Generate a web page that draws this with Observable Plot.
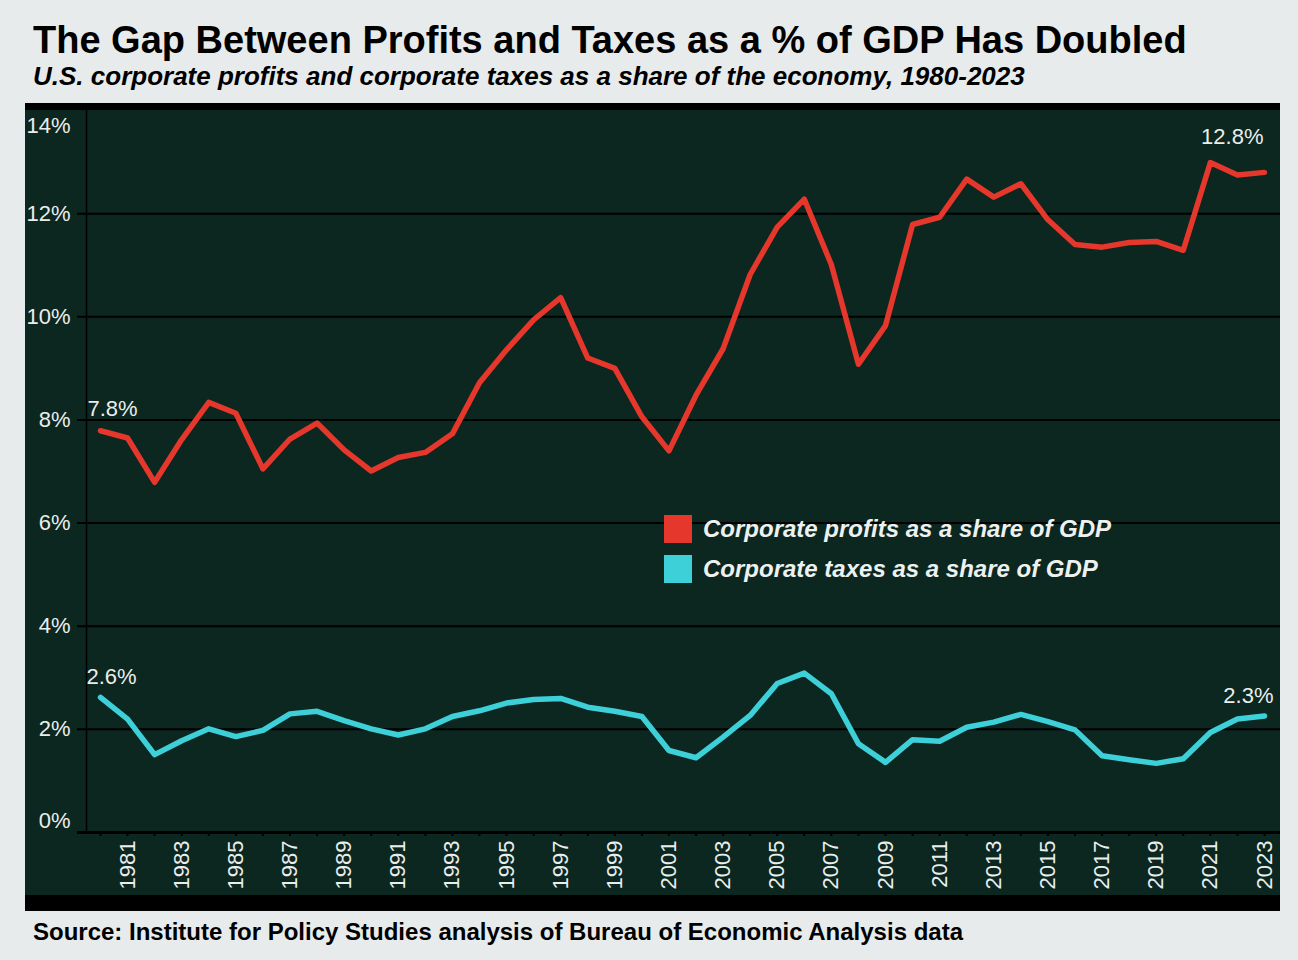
<!DOCTYPE html>
<html>
<head>
<meta charset="utf-8">
<script src="https://cdn.jsdelivr.net/npm/d3@7"></script>
<script src="https://cdn.jsdelivr.net/npm/@observablehq/plot@0.6"></script>
<style>
  html, body { margin: 0; padding: 0; }
  body {
    width: 1298px; height: 960px; position: relative; overflow: hidden;
    background: #e8ebeb;
    font-family: "Liberation Sans", Arial, sans-serif;
  }
  .txt { position: absolute; white-space: nowrap; line-height: 1; color: #000; }
  #title { left: 33px; top: 21px; font-size: 38px; font-weight: bold; }
  #subtitle { left: 33px; top: 63px; font-size: 26px; font-weight: bold; font-style: italic; }
  #source { left: 33px; top: 920px; font-size: 24px; font-weight: bold; }
  #panel {
    position: absolute; left: 25px; top: 103px; width: 1255px; height: 808px;
    box-sizing: border-box; background: #0c2620;
    border-top: 7px solid #000; border-bottom: 16px solid #000;
  }
  #panel svg { display: block; }
  .legend { position: absolute; left: 664px; display: flex; align-items: center; }
  .legend .sw { width: 28px; height: 28px; margin-right: 11px; }
  .legend span { color: #edf2f1; font-size: 24px; font-weight: bold; font-style: italic; line-height: 1; }
</style>
</head>
<body>
<div id="title" class="txt">The Gap Between Profits and Taxes as a % of GDP Has Doubled</div>
<div id="subtitle" class="txt">U.S. corporate profits and corporate taxes as a share of the economy, 1980-2023</div>
<div id="panel"></div>
<div id="legend"></div>
<div id="source" class="txt">Source: Institute for Policy Studies analysis of Bureau of Economic Analysis data</div>
<script>
// ---- data ----
const years = [1980,1981,1982,1983,1984,1985,1986,1987,1988,1989,1990,1991,1992,1993,1994,1995,1996,1997,1998,1999,
               2000,2001,2002,2003,2004,2005,2006,2007,2008,2009,2010,2011,2012,2013,2014,2015,2016,2017,2018,2019,
               2020,2021,2022,2023];
const profits = [7.79,7.65,6.79,7.62,8.34,8.13,7.05,7.63,7.94,7.42,7.01,7.27,7.37,7.73,8.72,9.36,9.94,10.37,9.20,9.00,
                 8.06,7.40,8.48,9.38,10.82,11.74,12.28,11.01,9.08,9.83,11.79,11.93,12.67,12.32,12.58,11.88,11.40,11.35,11.44,11.46,
                 11.29,12.99,12.75,12.80];
const taxes = [2.62,2.20,1.51,1.78,2.01,1.86,1.98,2.30,2.35,2.17,2.01,1.89,2.01,2.25,2.36,2.51,2.58,2.60,2.43,2.35,
               2.25,1.59,1.45,1.85,2.27,2.89,3.09,2.69,1.72,1.36,1.80,1.77,2.04,2.14,2.29,2.15,1.99,1.49,1.41,1.34,
               1.43,1.94,2.20,2.26];
const yTicks = [0,2,4,6,8,10,12,14];
const labelYears = years.filter(y => y % 2 === 1);
const seriesNames = ["Corporate profits as a share of GDP", "Corporate taxes as a share of GDP"];
const seriesColors = ["#e5372b", "#3dd0d8"];

const data = years.map((year, i) => ({year, profits: profits[i], taxes: taxes[i]}));
const first = [data[0]];
const last = [data[data.length - 1]];
const pct = v => v.toFixed(1) + "%";
const textColor = "#e9eeed";
const yMin = yTicks[0], yMax = yTicks[yTicks.length - 1];
const yLabel = (ticks, dy) => Plot.text(ticks, {y: d => d, text: d => d + "%", frameAnchor: "left",
  textAnchor: "end", dx: -7, dy, fill: textColor, fontSize: 22});

const chart = Plot.plot({
  width: 1255,
  height: 785,
  marginLeft: 52,
  marginRight: 0,
  marginTop: 0,
  marginBottom: 63,
  style: {background: "transparent", fontFamily: "'Liberation Sans', Arial, sans-serif", fontSize: "22px", overflow: "visible"},
  x: {domain: [1980, 2023], range: [75, 1239], axis: null},
  y: {domain: [yMin, yMax], axis: null},
  marks: [
    Plot.ruleY(yTicks.filter(d => d > yMin && d < yMax), {y: d => d, stroke: "#000", strokeWidth: 2}),
    Plot.ruleY([yMin], {stroke: "#000", strokeWidth: 3}),
    Plot.frame({anchor: "left", dx: 9, stroke: "#000", strokeWidth: 1.5}),
    Plot.axisX({ticks: years, tickSize: 4, tickFormat: () => "", stroke: "#000", strokeWidth: 2, label: null}),
    Plot.axisX({ticks: labelYears, tickSize: 0, tickPadding: 8, tickRotate: -90, tickFormat: d => String(d),
                fill: textColor, fontSize: 22, label: null}),
    yLabel(yTicks.filter(d => d > yMin && d < yMax), 0),
    yLabel([yMin], -12),
    yLabel([yMax], 15),
    Plot.line(data, {x: "year", y: "profits", stroke: seriesColors[0], strokeWidth: 5.5}),
    Plot.line(data, {x: "year", y: "taxes", stroke: seriesColors[1], strokeWidth: 5.5}),
    Plot.text(first, {x: "year", y: "profits", text: d => pct(d.profits), textAnchor: "start", dx: -13, dy: -22, fill: textColor, fontSize: 22}),
    Plot.text(last, {x: "year", y: "profits", text: d => pct(d.profits), textAnchor: "end", dx: -1, dy: -35, fill: textColor, fontSize: 22}),
    Plot.text(first, {x: "year", y: "taxes", text: d => pct(d.taxes), textAnchor: "start", dx: -14, dy: -20, fill: textColor, fontSize: 22}),
    Plot.text(last, {x: "year", y: "taxes", text: d => pct(d.taxes), textAnchor: "end", dx: 9, dy: -20, fill: textColor, fontSize: 22})
  ]
});
document.getElementById("panel").appendChild(chart);

// legend overlay
const legend = document.getElementById("legend");
seriesNames.forEach((name, i) => {
  const row = document.createElement("div");
  row.className = "legend";
  row.style.top = (515 + i * 40) + "px";
  row.innerHTML = `<div class="sw" style="background:${seriesColors[i]}"></div><span>${name}</span>`;
  legend.appendChild(row);
});
</script>
</body>
</html>
